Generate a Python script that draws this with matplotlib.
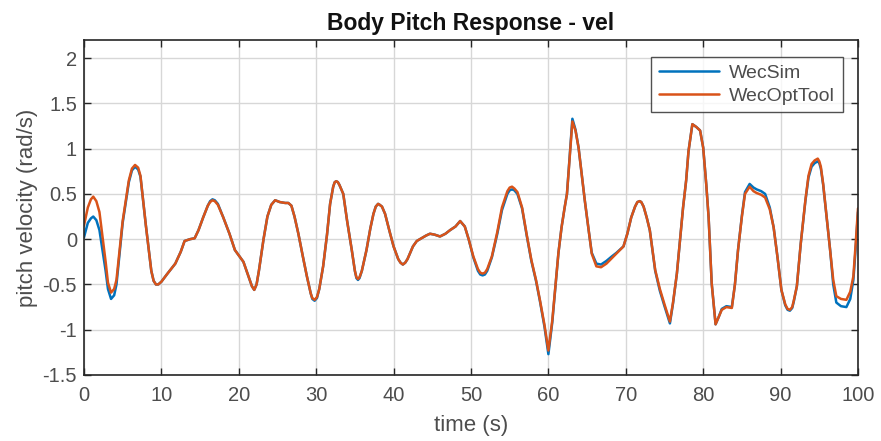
import matplotlib
matplotlib.use("Agg")
import matplotlib.pyplot as plt

plt.rcParams['font.family'] = ['Liberation Sans', 'DejaVu Sans']

# Time samples (s)
time_s = [
    0, 0.5, 0.9, 1.2, 1.6, 2.0, 2.8, 3.1, 3.5, 3.9,
    4.2, 5.0, 5.8, 6.2, 6.6, 7.0, 7.3, 8.0, 8.7, 9.0,
    9.3, 9.6, 10.0, 10.7, 11.8, 12.5, 13.0, 13.7, 14.3, 14.8,
    15.4, 16.0, 16.3, 16.6, 16.9, 17.3, 18.0, 18.8, 19.5, 20.6,
    21.3, 21.7, 22.0, 22.3, 22.6, 23.2, 23.7, 24.2, 24.7, 25.3,
    26.0, 26.4, 26.8, 27.2, 27.7, 28.3, 28.8, 29.3, 29.5, 29.8,
    30.1, 30.4, 30.9, 31.4, 31.8, 32.2, 32.4, 32.6, 32.8, 33.0,
    33.5, 34.0, 34.6, 35.0, 35.2, 35.4, 35.6, 35.9, 36.5, 37.0,
    37.4, 37.7, 38.0, 38.2, 38.5, 38.9, 39.5, 40.0, 40.6, 40.9,
    41.2, 41.5, 41.8, 42.5, 43.0, 43.6, 44.2, 44.7, 45.3, 46.0,
    46.7, 47.3, 48.0, 48.6, 49.2, 49.7, 50.3, 50.9, 51.2, 51.5,
    51.8, 52.1, 52.7, 53.4, 54.0, 54.7, 55.0, 55.3, 55.6, 56.0,
    56.6, 57.2, 57.8, 58.4, 58.9, 59.5, 60.0, 60.5, 60.9, 61.3,
    61.7, 62.1, 62.4, 62.8, 63.1, 63.5, 63.9, 64.3, 64.7, 65.2,
    65.6, 66.2, 66.8, 67.5, 68.2, 68.8, 69.7, 70.2, 70.7, 71.2,
    71.5, 71.8, 72.0, 72.3, 72.7, 73.1, 73.8, 74.4, 75.0, 75.7,
    76.1, 76.6, 77.0, 77.4, 77.8, 78.1, 78.6, 79.1, 79.6, 80.0,
    80.4, 80.7, 81.1, 81.6, 82.0, 82.4, 83.0, 83.7, 84.1, 84.5,
    85.0, 85.4, 86.0, 86.5, 86.9, 87.5, 88.0, 88.6, 89.1, 89.6,
    90.1, 90.6, 90.9, 91.2, 91.5, 91.7, 92.1, 92.6, 93.2, 93.6,
    94.0, 94.4, 94.8, 95.0, 95.2, 95.5, 96.0, 96.4, 96.8, 97.2,
    97.8, 98.5, 99.0, 99.4, 99.7, 100,
]

# Pitch velocity from WEC-Sim (rad/s)
wecsim_vel = [
    0.02, 0.18, 0.23, 0.25, 0.21, 0.10, -0.35, -0.55, -0.66, -0.62,
    -0.50, 0.18, 0.63, 0.76, 0.80, 0.77, 0.69, 0.15, -0.35, -0.46,
    -0.50, -0.50, -0.47, -0.39, -0.27, -0.14, -0.02, 0.00, 0.01, 0.10,
    0.24, 0.37, 0.42, 0.44, 0.43, 0.39, 0.24, 0.06, -0.12, -0.25,
    -0.42, -0.52, -0.56, -0.50, -0.35, 0.00, 0.25, 0.38, 0.43, 0.41,
    0.40, 0.40, 0.37, 0.25, 0.06, -0.20, -0.41, -0.60, -0.66, -0.68,
    -0.65, -0.55, -0.30, 0.05, 0.39, 0.58, 0.63, 0.64, 0.63, 0.60,
    0.50, 0.20, -0.12, -0.35, -0.43, -0.45, -0.43, -0.35, -0.12, 0.12,
    0.28, 0.36, 0.39, 0.38, 0.36, 0.28, 0.08, -0.08, -0.22, -0.26,
    -0.28, -0.26, -0.22, -0.08, -0.02, 0.01, 0.04, 0.06, 0.05, 0.03,
    0.06, 0.10, 0.14, 0.20, 0.14, 0.00, -0.20, -0.35, -0.39, -0.40,
    -0.39, -0.35, -0.20, 0.06, 0.32, 0.50, 0.54, 0.55, 0.54, 0.50,
    0.34, 0.04, -0.24, -0.46, -0.68, -0.97, -1.27, -0.92, -0.53, -0.15,
    0.13, 0.35, 0.50, 0.97, 1.33, 1.21, 1.01, 0.72, 0.43, 0.10,
    -0.15, -0.27, -0.28, -0.24, -0.19, -0.15, -0.08, 0.06, 0.24, 0.36,
    0.41, 0.42, 0.41, 0.36, 0.24, 0.10, -0.35, -0.57, -0.74, -0.93,
    -0.71, -0.38, -0.02, 0.35, 0.65, 0.97, 1.27, 1.24, 1.20, 1.01,
    0.60, 0.24, -0.49, -0.94, -0.86, -0.77, -0.74, -0.75, -0.50, -0.12,
    0.26, 0.52, 0.61, 0.57, 0.55, 0.53, 0.50, 0.35, 0.13, -0.20,
    -0.56, -0.73, -0.78, -0.79, -0.76, -0.69, -0.52, -0.05, 0.42, 0.68,
    0.80, 0.84, 0.86, 0.84, 0.78, 0.60, 0.20, -0.12, -0.50, -0.70,
    -0.74, -0.75, -0.66, -0.45, -0.10, 0.30,
]

# Pitch velocity from WecOptTool (rad/s)
wecopttool_vel = [
    0.15, 0.35, 0.44, 0.47, 0.42, 0.30, -0.25, -0.48, -0.59, -0.55,
    -0.45, 0.20, 0.65, 0.78, 0.82, 0.79, 0.70, 0.15, -0.35, -0.46,
    -0.50, -0.50, -0.47, -0.39, -0.27, -0.14, -0.02, 0.00, 0.01, 0.10,
    0.24, 0.37, 0.41, 0.43, 0.42, 0.38, 0.24, 0.06, -0.12, -0.25,
    -0.42, -0.52, -0.56, -0.50, -0.35, 0.00, 0.25, 0.38, 0.43, 0.41,
    0.40, 0.40, 0.37, 0.25, 0.06, -0.20, -0.41, -0.60, -0.65, -0.67,
    -0.64, -0.55, -0.30, 0.05, 0.39, 0.58, 0.63, 0.64, 0.63, 0.60,
    0.50, 0.20, -0.12, -0.35, -0.42, -0.44, -0.42, -0.35, -0.12, 0.12,
    0.28, 0.36, 0.39, 0.38, 0.36, 0.28, 0.08, -0.08, -0.22, -0.26,
    -0.28, -0.26, -0.22, -0.08, -0.02, 0.01, 0.04, 0.06, 0.05, 0.03,
    0.06, 0.10, 0.14, 0.20, 0.14, 0.00, -0.19, -0.33, -0.37, -0.38,
    -0.37, -0.33, -0.19, 0.08, 0.35, 0.53, 0.57, 0.58, 0.56, 0.52,
    0.35, 0.05, -0.23, -0.45, -0.67, -0.95, -1.23, -0.90, -0.52, -0.15,
    0.13, 0.35, 0.50, 0.95, 1.30, 1.20, 1.01, 0.72, 0.43, 0.10,
    -0.16, -0.30, -0.31, -0.27, -0.21, -0.16, -0.08, 0.06, 0.24, 0.36,
    0.41, 0.42, 0.41, 0.36, 0.24, 0.10, -0.34, -0.55, -0.72, -0.91,
    -0.70, -0.38, -0.02, 0.35, 0.65, 0.97, 1.27, 1.24, 1.20, 1.01,
    0.60, 0.24, -0.49, -0.94, -0.86, -0.78, -0.75, -0.76, -0.50, -0.12,
    0.25, 0.50, 0.58, 0.53, 0.51, 0.49, 0.46, 0.33, 0.13, -0.20,
    -0.56, -0.72, -0.77, -0.78, -0.75, -0.68, -0.52, -0.05, 0.43, 0.70,
    0.83, 0.87, 0.89, 0.86, 0.80, 0.61, 0.20, -0.12, -0.45, -0.63,
    -0.66, -0.67, -0.58, -0.41, -0.05, 0.34,
]

x_ticks = [0, 10, 20, 30, 40, 50, 60, 70, 80, 90, 100]
y_ticks = [-1.5, -1, -0.5, 0, 0.5, 1, 1.5, 2]
y_tick_labels = ['-1.5', '-1', '-0.5', '0', '0.5', '1', '1.5', '2']

fig = plt.figure(figsize=(8.81, 4.41), dpi=100)
ax = fig.add_axes([0.0953, 0.1497, 0.8786, 0.7596])

line_kw = dict(lw=1.8, solid_joinstyle='round', solid_capstyle='round')
ax.plot(time_s, wecsim_vel, color='#0072BD', label='WecSim', **line_kw)
ax.plot(time_s, wecopttool_vel, color='#D95319', label='WecOptTool', **line_kw)

ax.set_xlim(0, 100)
ax.set_ylim(-1.5, 2.2)
ax.set_xticks(x_ticks)
ax.set_yticks(y_ticks)
ax.set_yticklabels(y_tick_labels)

ax.grid(True, color='#D7D7D7', lw=1.0)
ax.set_axisbelow(True)
for s in ax.spines.values():
    s.set_color('#262626')
    s.set_linewidth(1.2)
ax.tick_params(direction='in', length=5, width=1.0, top=True, right=True,
               colors='#262626', labelcolor='#4D4D4D', labelsize=14.5)
ax.tick_params(axis='x', pad=8)
ax.tick_params(axis='y', pad=5)

ax.set_title('Body Pitch Response - vel', fontsize=16.5, fontweight='bold',
             color='#111111', pad=7)
ax.set_xlabel('time (s)', fontsize=16, color='#4D4D4D', labelpad=7)
ax.set_ylabel('pitch velocity (rad/s)', fontsize=16, color='#4D4D4D', labelpad=3)

leg = ax.legend(loc='upper right', fontsize=14, frameon=True, fancybox=False,
                handlelength=3.1, handletextpad=0.5, borderpad=0.4,
                labelspacing=0.25, borderaxespad=0.0,
                bbox_to_anchor=(0.98, 0.95))
leg.get_frame().set_edgecolor('#262626')
leg.get_frame().set_linewidth(1.0)
for t in leg.get_texts():
    t.set_color('#4D4D4D')

fig.savefig('out.png', dpi=100)
